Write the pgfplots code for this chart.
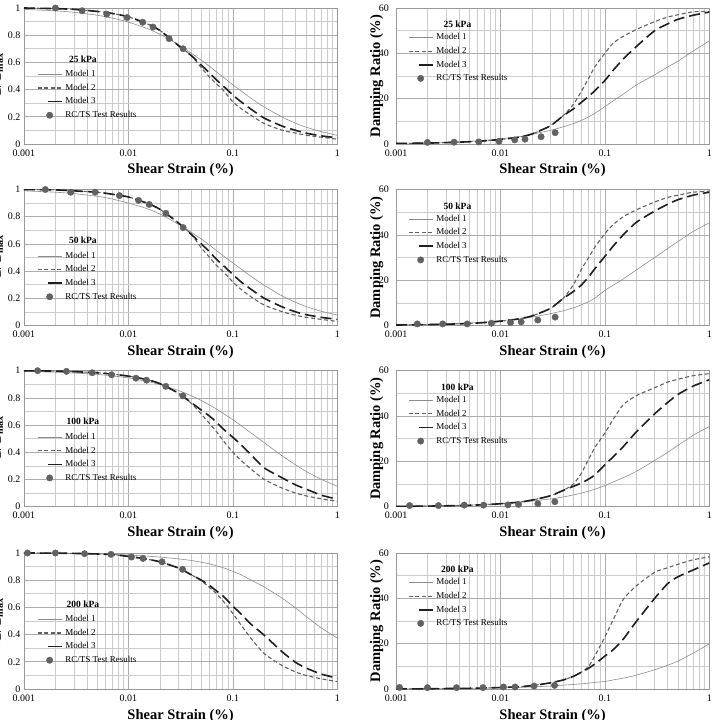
\documentclass[border=0pt]{standalone}
\usepackage{pgfplots}
\pgfplotsset{compat=1.18}
\usepackage{pgfplotstable}
\usepackage{fontspec}
\setmainfont{Liberation Serif}

% ---------- normalised shear modulus curves ----------
\pgfplotstableread{
x      m1     m2     m3
0.001  0.990  1.000  1.000
0.002  0.979  0.995  0.995
0.003  0.968  0.990  0.990
0.005  0.947  0.975  0.975
0.007  0.926  0.960  0.960
0.01   0.896  0.935  0.935
0.015  0.850  0.885  0.885
0.02   0.807  0.835  0.835
0.03   0.732  0.725  0.725
0.04   0.668  0.650  0.650
0.05   0.615  0.560  0.580
0.06   0.570  0.490  0.520
0.07   0.528  0.440  0.470
0.08   0.495  0.400  0.430
0.1    0.435  0.310  0.360
0.12   0.390  0.260  0.310
0.15   0.335  0.210  0.255
0.2    0.271  0.150  0.190
0.3    0.196  0.100  0.130
0.4    0.152  0.080  0.100
0.5    0.124  0.065  0.080
0.7    0.091  0.050  0.060
1      0.064  0.035  0.045
}\GA
\pgfplotstableread{
x      m1     m2     m3
0.001  0.990  1.000  1.000
0.002  0.980  0.997  0.997
0.003  0.970  0.990  0.990
0.005  0.950  0.980  0.980
0.007  0.930  0.965  0.965
0.01   0.900  0.945  0.945
0.015  0.860  0.900  0.900
0.02   0.820  0.855  0.855
0.03   0.745  0.755  0.755
0.04   0.685  0.670  0.670
0.05   0.635  0.570  0.600
0.06   0.590  0.500  0.540
0.07   0.550  0.440  0.485
0.08   0.515  0.400  0.445
0.1    0.460  0.320  0.375
0.12   0.415  0.265  0.320
0.15   0.360  0.210  0.265
0.2    0.295  0.150  0.200
0.3    0.215  0.100  0.135
0.4    0.170  0.075  0.100
0.5    0.140  0.060  0.080
0.7    0.105  0.045  0.060
1      0.077  0.030  0.045
}\GB
\pgfplotstableread{
x      m1     m2     m3
0.001  0.994  1.000  1.000
0.002  0.989  0.997  0.997
0.003  0.983  0.993  0.993
0.005  0.973  0.985  0.985
0.007  0.962  0.975  0.975
0.01   0.947  0.960  0.960
0.015  0.922  0.935  0.935
0.02   0.898  0.905  0.905
0.03   0.855  0.835  0.835
0.04   0.816  0.760  0.765
0.05   0.780  0.680  0.710
0.06   0.747  0.610  0.665
0.07   0.717  0.550  0.620
0.08   0.689  0.490  0.575
0.1    0.639  0.400  0.510
0.12   0.596  0.340  0.455
0.15   0.541  0.275  0.380
0.2    0.470  0.200  0.285
0.3    0.371  0.135  0.210
0.4    0.307  0.100  0.160
0.5    0.261  0.080  0.130
0.7    0.202  0.058  0.085
1      0.150  0.040  0.055
}\GC
\pgfplotstableread{
x      m1     m2     m3
0.001  1.000  1.000  1.000
0.002  0.998  0.999  0.999
0.003  0.996  0.997  0.997
0.005  0.993  0.993  0.993
0.007  0.990  0.988  0.988
0.01   0.985  0.975  0.975
0.015  0.977  0.955  0.955
0.02   0.970  0.935  0.935
0.03   0.957  0.890  0.890
0.04   0.945  0.840  0.840
0.05   0.932  0.795  0.800
0.06   0.920  0.745  0.760
0.07   0.905  0.700  0.720
0.08   0.893  0.650  0.685
0.1    0.865  0.555  0.610
0.12   0.840  0.470  0.550
0.15   0.800  0.370  0.475
0.2    0.750  0.260  0.395
0.3    0.665  0.170  0.270
0.4    0.595  0.125  0.195
0.5    0.535  0.100  0.155
0.7    0.450  0.075  0.110
1      0.375  0.055  0.080
}\GD

% ---------- damping ratio curves (%) ----------
\pgfplotstableread{
x      m1    m2    m3
0.001  0.3   0.2   0.2
0.002  0.5   0.4   0.4
0.003  0.8   0.6   0.6
0.005  1.2   1.0   1.0
0.007  1.6   1.4   1.4
0.01   2.3   2.0   2.0
0.015  3.2   3.0   3.0
0.02   4.3   4.4   4.4
0.03   6.0   8.0   8.0
0.04   7.6   12.5  12.5
0.05   9.0   17.5  15.5
0.06   10.5  23.5  18.5
0.07   12.0  29.0  21.0
0.08   13.5  34.0  23.5
0.1    16.5  40.0  28.0
0.12   19.0  44.5  32.5
0.15   22.0  47.5  37.5
0.2    26.0  50.5  43.0
0.3    30.5  54.0  50.0
0.4    34.0  56.0  53.0
0.5    36.5  57.0  55.0
0.7    41.0  58.3  56.8
1      45.5  58.5  58.2
}\DA
\pgfplotstableread{
x      m1    m2    m3
0.001  0.3   0.2   0.2
0.002  0.5   0.4   0.4
0.003  0.7   0.55  0.55
0.005  1.1   0.9   0.9
0.007  1.5   1.3   1.3
0.01   2.1   1.9   1.9
0.015  2.9   2.9   2.9
0.02   3.7   4.2   4.2
0.03   5.2   7.5   7.5
0.04   6.5   12.0  12.0
0.05   7.8   18.0  15.0
0.06   9.2   25.0  18.0
0.07   10.5  30.0  21.5
0.08   12.0  34.5  25.0
0.1    15.5  40.5  30.5
0.12   17.8  44.5  35.0
0.15   20.5  48.0  40.0
0.2    24.5  51.0  45.5
0.3    30.0  54.5  50.5
0.4    34.0  56.5  53.5
0.5    37.0  57.5  55.5
0.7    41.5  58.8  57.5
1      45.3  59.3  58.8
}\DB
\pgfplotstableread{
x      m1    m2    m3
0.001  0.2   0.1   0.1
0.002  0.35  0.25  0.25
0.003  0.5   0.4   0.4
0.005  0.75  0.6   0.6
0.007  1.0   0.9   0.9
0.01   1.4   1.3   1.3
0.015  1.9   2.0   2.0
0.02   2.5   2.9   2.9
0.03   3.4   4.8   4.8
0.04   4.3   7.2   7.2
0.05   5.2   10.0  9.0
0.06   6.0   15.0  10.5
0.07   6.9   21.0  12.2
0.08   7.7   26.0  14.0
0.1    9.3   32.5  18.5
0.12   10.9  38.5  22.0
0.15   12.8  45.0  26.5
0.2    15.6  49.0  33.0
0.3    20.4  52.5  41.0
0.4    24.0  55.0  46.0
0.5    27.0  56.2  49.5
0.7    31.5  57.8  53.2
1      35.4  58.7  56.0
}\DC
\pgfplotstableread{
x      m1    m2    m3
0.001  0.05  0.05  0.05
0.002  0.1   0.1   0.1
0.003  0.15  0.2   0.2
0.005  0.25  0.3   0.3
0.007  0.35  0.45  0.45
0.01   0.5   0.65  0.65
0.015  0.7   1.0   1.0
0.02   0.9   1.5   1.5
0.03   1.3   2.7   2.7
0.04   1.7   4.0   4.0
0.05   2.0   5.6   5.6
0.06   2.3   7.5   7.5
0.07   2.6   10.0  9.2
0.08   2.9   14.5  11.0
0.1    3.3   23.0  14.5
0.12   4.0   30.5  17.3
0.15   4.8   39.5  22.0
0.2    6.1   45.5  29.8
0.3    8.5   51.5  40.0
0.4    10.5  53.5  46.5
0.5    12.3  55.0  49.5
0.7    15.8  57.0  52.5
1      19.9  58.3  55.6
}\DD

% ---------- RC/TS test results: strain, G/Gmax, damping ----------
\pgfplotstableread{
x       g      d
0.002   1.000  0.7
0.0036  0.980  0.8
0.0062  0.955  0.9
0.0097  0.930  1.2
0.0137  0.895  1.8
0.0172  0.860  2.1
0.0245  0.775  3.2
0.0334  0.700  5.0
}\PA
\pgfplotstableread{
x       g      d
0.0016  1.000  0.7
0.0028  0.980  0.7
0.0048  0.980  0.7
0.0082  0.955  1.0
0.0125  0.920  1.3
0.0158  0.890  1.6
0.0228  0.825  2.4
0.0334  0.720  3.7
}\PB
\pgfplotstableread{
x       g      d
0.00135 1.000  0.5
0.00255 0.995  0.5
0.0045  0.985  0.7
0.0069  0.970  0.7
0.0118  0.945  0.8
0.0149  0.930  1.0
0.0228  0.885  1.3
0.0332  0.815  2.2
}\PC
\pgfplotstableread{
x       g      d
0.00108 1.000  0.7
0.002   1.000  0.6
0.0038  0.995  0.6
0.0068  0.990  0.6
0.0107  0.970  0.9
0.0138  0.960  0.9
0.021   0.935  1.3
0.033   0.880  1.6
}\PD

% common look of all eight panels
\pgfplotsset{
  every axis/.append style={
    scale only axis, width=313.3pt, height=136pt,
    xmin=0.001, xmax=1,
    xtick={0.001,0.01,0.1,1}, xticklabels={0.001,0.01,0.1,1},
    minor xtick={0.002,0.003,0.004,0.005,0.006,0.007,0.008,0.009,
                 0.02,0.03,0.04,0.05,0.06,0.07,0.08,0.09,
                 0.2,0.3,0.4,0.5,0.6,0.7,0.8,0.9},
    grid=both,
    major grid style={black!32, line width=0.6pt},
    minor grid style={black!20, line width=0.6pt},
    axis line style={black!40, line width=0.6pt},
    major tick length=0pt, minor tick length=0pt,
    tick label style={font=\fontsize{10}{11}\selectfont},
    xticklabel style={yshift=-2pt},
    xlabel={Shear Strain (\%)},
    xlabel style={font=\bfseries\fontsize{14.5}{16}\selectfont,
      at={(axis description cs:0.5,0)}, anchor=base, yshift=-30pt},
    ylabel style={font=\bfseries\fontsize{14.5}{16}\selectfont, anchor=base},
    legend cell align=left,
    legend style={draw=none, fill=none, inner sep=0pt, anchor=north west,
      font=\fontsize{9}{10}\selectfont, row sep=1.9pt},
  },
  gaxis/.style={
    ymin=0, ymax=1, ytick={0,0.2,0.4,0.6,0.8,1},
    yticklabels={0,0.2,0.4,0.6,0.8,1},
    minor ytick={0.1,0.3,0.5,0.7,0.9},
    ylabel={G/G\textsubscript{max}},
    ylabel style={overlay, at={(axis description cs:-0.074,0.5)}},
    legend style={at={(axis description cs:0.0405,0.557)}},
  },
  daxis/.style={
    ymin=0, ymax=60, ytick={0,20,40,60}, yticklabels={0,20,40,60},
    minor ytick={10,30,50},
    yticklabel style={xshift=-3.5pt},
    ylabel={Damping Ratio (\%)},
    ylabel style={at={(axis description cs:-0.051,0.5)}},
    legend style={at={(axis description cs:0.0373,0.828)}},
  },
  % legend samples: a 24pt stroke with a little room before the text
  lineleg/.style={legend image code/.code={%
    \draw[##1] (0pt,0pt) -- (24pt,0pt); \path (25pt,0pt);}},
  dashleg/.style={legend image code/.code={%
    \draw[##1, solid] (10pt,0pt) -- (24pt,0pt); \path (0pt,0pt) (25pt,0pt);}},
  markleg/.style={legend image code/.code={%
    \draw[##1] plot coordinates {(12pt,0pt)}; \path (0pt,0pt) (25pt,0pt);}},
}
\tikzset{
  mone/.style={mark=none, black!45, line width=0.6pt, smooth, tension=0.4},
  mtwo/.style={mark=none, black!62, line width=1.1pt, smooth, tension=0.4,
    dash pattern=on 4pt off 2.6pt},
  mthree/.style={mark=none, black!88, line width=1.6pt, smooth, tension=0.4,
    dash pattern=on 11pt off 5pt},
  rcts/.style={mark=*, mark size=3.2pt,
    mark options={fill=black!62, draw=black!62}},
  ttl/.style={font=\bfseries\fontsize{9.5}{10}\selectfont},
}

\begin{document}
\begin{tikzpicture}
\path[use as bounding box] (0pt,0pt) rectangle (716pt,720pt);

% ----- 25 kPa -----
\begin{axis}[xmode=log, gaxis, at={(24pt,576pt)}, anchor=south west]
\addplot[mone, lineleg] table[x=x,y=m1]{\GA}; \addlegendentry{Model 1}
\addplot[mtwo, lineleg] table[x=x,y=m2]{\GA}; \addlegendentry{Model 2}
\addplot[mthree, dashleg] table[x=x,y=m3]{\GA}; \addlegendentry{Model 3}
\addplot[only marks, rcts, markleg] table[x=x,y=g]{\PA}; \addlegendentry{RC/TS Test Results}
\node[ttl] at (axis description cs:0.188,0.625) {25 kPa};
\end{axis}
\begin{axis}[xmode=log, daxis, at={(396pt,576pt)}, anchor=south west]
\addplot[mone, lineleg] table[x=x,y=m1]{\DA}; \addlegendentry{Model 1}
\addplot[mtwo, lineleg] table[x=x,y=m2]{\DA}; \addlegendentry{Model 2}
\addplot[mthree, dashleg] table[x=x,y=m3]{\DA}; \addlegendentry{Model 3}
\addplot[only marks, rcts, markleg] table[x=x,y=d]{\PA}; \addlegendentry{RC/TS Test Results}
\node[ttl] at (axis description cs:0.196,0.879) {25 kPa};
\end{axis}

% ----- 50 kPa -----
\begin{axis}[xmode=log, gaxis, at={(24pt,394.5pt)}, anchor=south west]
\addplot[mone, lineleg] table[x=x,y=m1]{\GB}; \addlegendentry{Model 1}
\addplot[mtwo, lineleg] table[x=x,y=m2]{\GB}; \addlegendentry{Model 2}
\addplot[mthree, dashleg] table[x=x,y=m3]{\GB}; \addlegendentry{Model 3}
\addplot[only marks, rcts, markleg] table[x=x,y=g]{\PB}; \addlegendentry{RC/TS Test Results}
\node[ttl] at (axis description cs:0.188,0.625) {50 kPa};
\end{axis}
\begin{axis}[xmode=log, daxis, at={(396pt,394.5pt)}, anchor=south west]
\addplot[mone, lineleg] table[x=x,y=m1]{\DB}; \addlegendentry{Model 1}
\addplot[mtwo, lineleg] table[x=x,y=m2]{\DB}; \addlegendentry{Model 2}
\addplot[mthree, dashleg] table[x=x,y=m3]{\DB}; \addlegendentry{Model 3}
\addplot[only marks, rcts, markleg] table[x=x,y=d]{\PB}; \addlegendentry{RC/TS Test Results}
\node[ttl] at (axis description cs:0.196,0.879) {50 kPa};
\end{axis}

% ----- 100 kPa -----
\begin{axis}[xmode=log, gaxis, at={(24pt,213.3pt)}, anchor=south west]
\addplot[mone, lineleg] table[x=x,y=m1]{\GC}; \addlegendentry{Model 1}
\addplot[mtwo, lineleg] table[x=x,y=m2]{\GC}; \addlegendentry{Model 2}
\addplot[mthree, dashleg] table[x=x,y=m3]{\GC}; \addlegendentry{Model 3}
\addplot[only marks, rcts, markleg] table[x=x,y=g]{\PC}; \addlegendentry{RC/TS Test Results}
\node[ttl] at (axis description cs:0.188,0.625) {100 kPa};
\end{axis}
\begin{axis}[xmode=log, daxis, at={(396pt,213.3pt)}, anchor=south west]
\addplot[mone, lineleg] table[x=x,y=m1]{\DC}; \addlegendentry{Model 1}
\addplot[mtwo, lineleg] table[x=x,y=m2]{\DC}; \addlegendentry{Model 2}
\addplot[mthree, dashleg] table[x=x,y=m3]{\DC}; \addlegendentry{Model 3}
\addplot[only marks, rcts, markleg] table[x=x,y=d]{\PC}; \addlegendentry{RC/TS Test Results}
\node[ttl] at (axis description cs:0.196,0.879) {100 kPa};
\end{axis}

% ----- 200 kPa -----
\begin{axis}[xmode=log, gaxis, at={(24pt,31pt)}, anchor=south west]
\addplot[mone, lineleg] table[x=x,y=m1]{\GD}; \addlegendentry{Model 1}
\addplot[mtwo, lineleg] table[x=x,y=m2]{\GD}; \addlegendentry{Model 2}
\addplot[mthree, dashleg] table[x=x,y=m3]{\GD}; \addlegendentry{Model 3}
\addplot[only marks, rcts, markleg] table[x=x,y=g]{\PD}; \addlegendentry{RC/TS Test Results}
\node[ttl] at (axis description cs:0.188,0.625) {200 kPa};
\end{axis}
\begin{axis}[xmode=log, daxis, at={(396pt,31pt)}, anchor=south west]
\addplot[mone, lineleg] table[x=x,y=m1]{\DD}; \addlegendentry{Model 1}
\addplot[mtwo, lineleg] table[x=x,y=m2]{\DD}; \addlegendentry{Model 2}
\addplot[mthree, dashleg] table[x=x,y=m3]{\DD}; \addlegendentry{Model 3}
\addplot[only marks, rcts, markleg] table[x=x,y=d]{\PD}; \addlegendentry{RC/TS Test Results}
\node[ttl] at (axis description cs:0.196,0.879) {200 kPa};
\end{axis}
\end{tikzpicture}
\end{document}
